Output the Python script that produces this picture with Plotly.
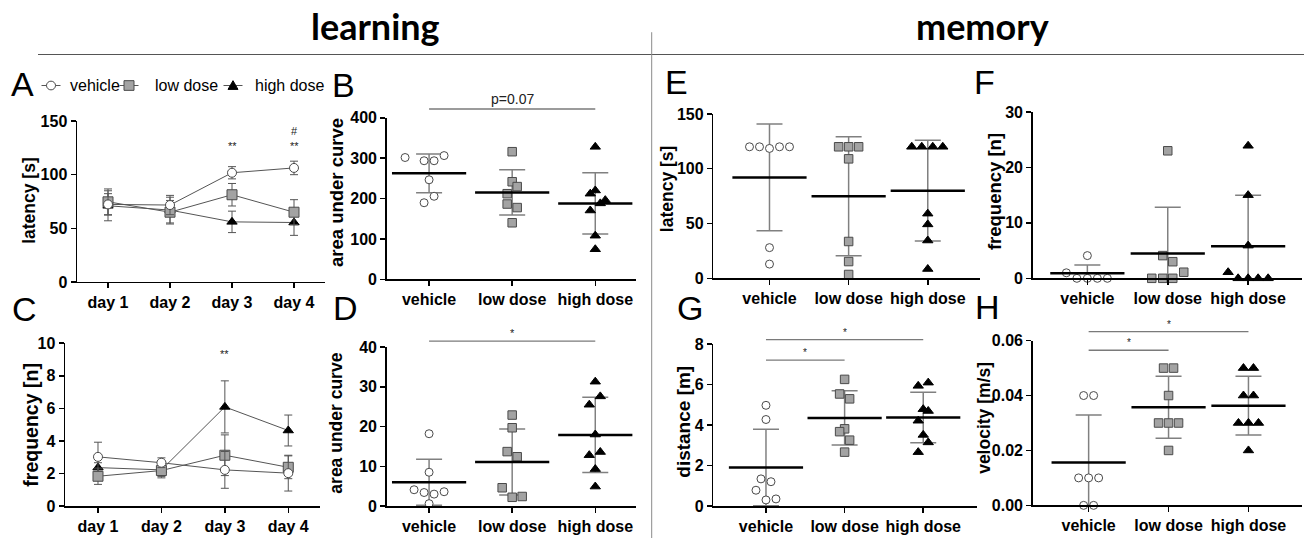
import plotly.graph_objects as go

W, H = 1304, 547
FONT = "Liberation Sans"

# ------------------------------------------------------------------ data
DAYS = ["day 1", "day 2", "day 3", "day 4"]
GROUPS = ["vehicle", "low dose", "high dose"]

# Panel A – latency [s] over days (mean, SEM)
A_VEH = [72.3, 71.7, 101.8, 106.3]
A_VEH_ERR = [10.0, 9.0, 5.7, 6.3]
A_LOW = [74.7, 65.0, 81.3, 65.0]
A_LOW_ERR = [12.0, 11.0, 10.5, 11.7]
A_HIGH = [71.0, 67.0, 56.0, 55.4]
A_HIGH_ERR = [14.0, 12.0, 10.0, 12.0]

# Panel C – frequency [n] over days (mean, SEM)
C_VEH = [3.02, 2.66, 2.22, 2.02]
C_VEH_ERR = [0.9, 0.3, 1.13, 1.1]
C_LOW = [1.83, 2.18, 3.12, 2.38]
C_LOW_ERR = [0.5, 0.45, 1.25, 0.7]
C_HIGH = [2.36, 2.22, 6.09, 4.64]
C_HIGH_ERR = [0.3, 0.4, 1.6, 0.95]

# Panel B – area under curve (latency)
B_VEH = [301.6, 293.6, 293.6, 306.4, 246.4, 205.6, 189.6]
B_LOW = [316.0, 241.6, 229.6, 212.0, 186.4, 177.6, 140.0]
B_HIGH = [328.0, 220.0, 212.0, 196.0, 188.0, 170.4, 108.0, 74.4]
B_MEAN = [262.4, 215.0, 188.0]
B_SD = [48.0, 56.0, 76.0]

# Panel D – area under curve (frequency)
D_VEH = [18.2, 8.5, 4.1, 3.4, 3.0, 3.6, 0.6]
D_LOW = [22.9, 19.7, 13.7, 12.4, 4.6, 2.2, 2.4]
D_HIGH = [31.3, 27.6, 25.5, 18.0, 12.8, 13.6, 9.3, 4.9]
D_MEAN = [6.0, 11.1, 17.9]
D_SD = [5.8, 8.3, 9.45]

# Panel E – latency [s] (memory)
E_VEH = [120, 120, 118.5, 120, 120, 28, 13]
E_LOW = [120, 120, 120, 109, 33.6, 15.3, 3.5]
E_HIGH = [120, 120, 120, 120, 59, 49.2, 34.5, 8.5]
E_MEAN = [92.0, 74.9, 80.0]
E_SD = [48.7, 54.3, 46.0]

# Panel F – frequency [n] (memory)
F_VEH = [4.1, 1.0, 0, 0, 0, 0]
F_LOW = [23.0, 4.1, 3.0, 1.1, 0, 0, 0]
F_HIGH = [23.9, 15.0, 5.9, 1.1, 0, 0, 0, 0]
F_MEAN = [0.9, 4.5, 5.8]
F_SD = [1.5, 8.3, 9.2]

# Panel G – distance [m]
G_VEH = [4.97, 4.27, 1.34, 1.2, 0.78, 0.3, 0.35]
G_LOW = [6.25, 5.53, 5.29, 3.81, 3.67, 3.25, 2.66]
G_HIGH = [5.93, 6.09, 4.78, 4.69, 4.21, 3.51, 3.14, 2.66]
G_MEAN = [1.9, 4.35, 4.37]
G_SD = [1.89, 1.34, 1.25]

# Panel H – velocity [m/s]
H_VEH = [0.04, 0.04, 0.01, 0.01, 0.01, 0.0, 0.0]
H_LOW = [0.05, 0.05, 0.04, 0.03, 0.03, 0.03, 0.02]
H_HIGH = [0.05, 0.05, 0.04, 0.04, 0.03, 0.03, 0.03, 0.02]
H_MEAN = [0.01565, 0.0357, 0.0363]
H_SD = [0.01725, 0.0113, 0.0107]

# significance marks
A_SIG = [(2, 127, "**"), (3, 127, "**"), (3, 141, "#")]
C_SIG = [(2, 9.35, "**")]
B_SIG = [(0, 2, 421.7, "p=0.07")]
D_SIG = [(0, 2, 41.5, "*")]
G_SIG = [(0, 2, 8.21, "*"), (0, 1, 7.2, "*")]
H_SIG = [(0, 2, 0.0633, "*"), (0, 1, 0.0565, "*")]

# ------------------------------------------------------------------ point jitter (px)
B_JIT = [[-24, -5, 5, 15, 0, 5, -5], [0, 0, 5, -5, -5, 5, 0], [0, 0, -5, 10, 5, -5, 0, 0]]
D_JIT = [[0, 0, -15, -5, 5, 15, 0], [0, 0, -5, 5, -10, 0, 10], [0, 5, -6, 0, -6, 5, 0, 0]]
E_JIT = [[-20, -10, 0, 10, 20, 0, 0], [-10, 0, 10, 0, 0, 0, 0], [-16, -6, 5, 15, 0, 0, 0, 0]]
F_JIT = [[0, -21, -10.5, 0, 10, 20], [0, -5, 5, 16, -16, -5, 5], [0, 0, 0, -20, -10, 0, 10, 20]]
G_JIT = [[0, 0, -5, 5, -10, 0, 10], [0, -5, 5, 0, -5, 5, 0], [-5, 5, 0, 5, -5, 0, 5, -5]]
H_JIT = [[-5, 5, -10, 0, 10, -5, 5], [-5, 5, 0, -10, 0, 10, 0], [-5, 5, -5, 5, -10, 0, 10, 0]]

# ------------------------------------------------------------------ styles
EDGE = "#4a4a4a"
GRAYFILL = "#a3a3a3"
MARKERS = [
    dict(symbol="circle", size=8, color="white", line=dict(color=EDGE, width=1)),
    dict(symbol="square", size=8.5, color=GRAYFILL, line=dict(color=EDGE, width=1)),
    dict(symbol="triangle-up", size=9, color="black", line=dict(color="black", width=1)),
]
LINE_MARKERS = [
    dict(symbol="circle", size=9, color="white", line=dict(color=EDGE, width=1)),
    dict(symbol="square", size=10, color=GRAYFILL, line=dict(color=EDGE, width=1)),
    dict(symbol="triangle-up", size=9, color="black", line=dict(color="black", width=1)),
]
SD_COLOR = "#808080"
SIG_COLOR = "#7a7a7a"

fig = go.Figure()
layout = dict(
    width=W, height=H, autosize=False,
    margin=dict(l=0, r=0, t=0, b=0),
    paper_bgcolor="white", plot_bgcolor="rgba(0,0,0,0)",
    showlegend=False,
    font=dict(family=FONT, color="black"),
)

# panel boxes in px: left, top, right, bottom
PANELS = {
    "A": dict(n=1, box=(77, 116.7, 325, 282.7), xr=[-0.5, 3.5], yr=[0, 150], yt=[0, 50, 100, 150], cats=DAYS),
    "C": dict(n=2, box=(65, 346, 320, 514), xr=[-0.52, 3.5], yr=[0, 10], yt=[0, 2, 4, 6, 8, 10], cats=DAYS),
    "B": dict(n=3, box=(386.7, 113.3, 636, 280), xr=[-0.51, 2.49], yr=[0, 400], yt=[0, 100, 200, 300, 400], cats=GROUPS),
    "D": dict(n=4, box=(386.7, 350, 636, 514), xr=[-0.51, 2.49], yr=[0, 40], yt=[0, 10, 20, 30, 40], cats=GROUPS),
    "E": dict(n=5, box=(713.3, 109.3, 980, 279), xr=[-0.71, 2.66], yr=[0, 150], yt=[0, 50, 100, 150], cats=GROUPS),
    "G": dict(n=6, box=(713.3, 346.7, 976.7, 514), xr=[-0.67, 2.68], yr=[0, 8], yt=[0, 2, 4, 6, 8], cats=GROUPS),
    "F": dict(n=7, box=(1032.7, 107.3, 1302, 279), xr=[-0.68, 2.67], yr=[0, 30], yt=[0, 10, 20, 30], cats=GROUPS),
    "H": dict(n=8, box=(1032.7, 343.3, 1302, 513.3), xr=[-0.70, 2.67], yr=[0, 0.06], yt=[0, 0.02, 0.04, 0.06], cats=GROUPS),
}

tickfont = dict(family=FONT, size=16, color="black", weight="bold")
for key, p in PANELS.items():
    l, t, r, b = p["box"]
    n = p["n"]
    xs = "" if n == 1 else str(n)
    common = dict(showline=True, linecolor="black", linewidth=1.5, ticks="outside",
                  ticklen=5, tickwidth=1.5, tickcolor="black", showgrid=False,
                  zeroline=False, tickfont=tickfont, fixedrange=True)
    layout["xaxis" + xs] = dict(common, domain=[l / W, r / W], range=p["xr"],
                                anchor="y" + xs, tickmode="array",
                                tickvals=list(range(len(p["cats"]))), ticktext=p["cats"])
    ya = dict(common, domain=[1 - b / H, 1 - t / H], range=p["yr"],
              anchor="x" + xs, tickmode="array", tickvals=p["yt"])
    if key == "H":
        ya["tickformat"] = ".2f"
    layout["yaxis" + xs] = ya
    p["xa"], p["ya"] = "x" + xs, "y" + xs
    p["upx"] = (r - l) / (p["xr"][1] - p["xr"][0])


# ------------------------------------------------------------------ line panels
def line_panel(p, series, errs):
    for gi in [2, 1, 0]:
        fig.add_trace(go.Scatter(
            x=list(range(len(DAYS))), y=series[gi], mode="lines+markers",
            error_y=dict(type="data", array=errs[gi], color="#555555", thickness=1, width=4),
            line=dict(color="#555555", width=1), marker=LINE_MARKERS[gi],
            xaxis=p["xa"], yaxis=p["ya"], cliponaxis=False))


line_panel(PANELS["A"], [A_VEH, A_LOW, A_HIGH], [A_VEH_ERR, A_LOW_ERR, A_HIGH_ERR])
line_panel(PANELS["C"], [C_VEH, C_LOW, C_HIGH], [C_VEH_ERR, C_LOW_ERR, C_HIGH_ERR])

annotations = []


def note(p, x, lvl, txt, size, anchor):
    annotations.append(dict(x=x, y=lvl / p["yr"][1], xref=p["xa"], yref=p["ya"] + " domain",
                            text=txt, showarrow=False, yanchor=anchor,
                            font=dict(family=FONT, size=size, color="#222")))


for (d, lvl, txt) in A_SIG:
    note(PANELS["A"], d, lvl, txt, 11, "middle")
for (d, lvl, txt) in C_SIG:
    note(PANELS["C"], d, lvl, txt, 11, "middle")


# ------------------------------------------------------------------ dot panels
def dot_panel(p, vals, jit, means, sds):
    for gi in range(3):
        fig.add_trace(go.Scatter(
            x=[gi], y=[means[gi]], mode="markers",
            marker=dict(size=1, color="rgba(0,0,0,0)"),
            error_y=dict(type="data", array=[sds[gi]], color=SD_COLOR, thickness=1.5, width=13),
            xaxis=p["xa"], yaxis=p["ya"]))
        fig.add_trace(go.Scatter(
            x=[gi + j / p["upx"] for j in jit[gi]], y=vals[gi], mode="markers",
            marker=MARKERS[gi], xaxis=p["xa"], yaxis=p["ya"], cliponaxis=False))
        fig.add_trace(go.Scatter(
            x=[gi], y=[means[gi]], mode="markers",
            marker=dict(symbol="line-ew", size=53, color="black",
                        line=dict(color="black", width=2.5)),
            xaxis=p["xa"], yaxis=p["ya"], cliponaxis=False))


dot_panel(PANELS["B"], [B_VEH, B_LOW, B_HIGH], B_JIT, B_MEAN, B_SD)
dot_panel(PANELS["D"], [D_VEH, D_LOW, D_HIGH], D_JIT, D_MEAN, D_SD)
dot_panel(PANELS["E"], [E_VEH, E_LOW, E_HIGH], E_JIT, E_MEAN, E_SD)
dot_panel(PANELS["F"], [F_VEH, F_LOW, F_HIGH], F_JIT, F_MEAN, F_SD)
dot_panel(PANELS["G"], [G_VEH, G_LOW, G_HIGH], G_JIT, G_MEAN, G_SD)
dot_panel(PANELS["H"], [H_VEH, H_LOW, H_HIGH], H_JIT, H_MEAN, H_SD)

shapes = []


def sig(p, items, size):
    for (g0, g1, lvl, txt) in items:
        frac = lvl / p["yr"][1]
        shapes.append(dict(type="line", xref=p["xa"], yref=p["ya"] + " domain",
                           x0=g0, x1=g1, y0=frac, y1=frac,
                           line=dict(color=SIG_COLOR, width=1.3)))
        note(p, (g0 + g1) / 2, lvl, txt, size, "bottom")


sig(PANELS["B"], B_SIG, 14)
sig(PANELS["D"], D_SIG, 11)
sig(PANELS["G"], G_SIG, 10)
sig(PANELS["H"], H_SIG, 10)

# ------------------------------------------------------------------ legend (panel A header), drawn as shapes
LEG_KEY_X = [51, 129, 233]
LEG_TXT_X = [68, 153, 253]
LEG_Y = 80


def px(x, y):
    return x / W, 1 - y / H


for gi in range(3):
    cx = LEG_KEY_X[gi]
    x0, y0 = px(cx - 9.5, LEG_Y)
    x1, _ = px(cx + 9.5, LEG_Y)
    shapes.append(dict(type="line", xref="paper", yref="paper", x0=x0, x1=x1, y0=y0, y1=y0,
                       line=dict(color="#555555", width=1)))
    if gi == 0:
        a0, b0 = px(cx - 4.5, LEG_Y + 4.5)
        a1, b1 = px(cx + 4.5, LEG_Y - 4.5)
        shapes.append(dict(type="circle", xref="paper", yref="paper", x0=a0, x1=a1, y0=b0, y1=b1,
                           fillcolor="white", line=dict(color=EDGE, width=1)))
    elif gi == 1:
        a0, b0 = px(cx - 5, LEG_Y + 5)
        a1, b1 = px(cx + 5, LEG_Y - 5)
        shapes.append(dict(type="rect", xref="paper", yref="paper", x0=a0, x1=a1, y0=b0, y1=b1,
                           fillcolor=GRAYFILL, line=dict(color=EDGE, width=1)))
    else:
        pa = px(cx - 5, LEG_Y + 4)
        pb = px(cx + 5, LEG_Y + 4)
        pc = px(cx, LEG_Y - 5)
        path = "M {} {} L {} {} L {} {} Z".format(pa[0], pa[1], pb[0], pb[1], pc[0], pc[1])
        shapes.append(dict(type="path", xref="paper", yref="paper", path=path,
                           fillcolor="black", line=dict(color="black", width=1)))
    tx, ty = px(LEG_TXT_X[gi], LEG_Y)
    annotations.append(dict(x=tx, y=ty, xref="paper", yref="paper",
                            text=GROUPS[gi], showarrow=False, xanchor="left", yanchor="middle",
                            font=dict(family=FONT, size=16, color="black")))

# ------------------------------------------------------------------ titles / letters
AXIS_TITLES = [
    ("latency [s]", 29, 199, 17.5), ("frequency [n]", 31, 430, 19.5),
    ("area under curve", 336, 191, 18.5), ("area under curve", 336, 429, 17.5),
    ("latency [s]", 667, 187, 17.5), ("distance [m]", 684, 427, 19),
    ("frequency [n]", 994, 190, 18.5), ("velocity [m/s]", 984, 423, 17.5),
]
for (txt, x, y, s) in AXIS_TITLES:
    annotations.append(dict(x=x / W, y=1 - y / H, xref="paper", yref="paper", text=txt,
                            textangle=-90, showarrow=False, xanchor="center", yanchor="middle",
                            font=dict(family=FONT, size=s, color="black", weight="bold")))

LETTERS = [("A", 22, 78), ("B", 344, 79), ("C", 24, 311), ("D", 345, 310),
           ("E", 676, 76), ("F", 984, 76), ("G", 690, 310), ("H", 988, 309)]
for (txt, x, y) in LETTERS:
    annotations.append(dict(x=x / W, y=1 - y / H, xref="paper", yref="paper", text=txt,
                            showarrow=False, xanchor="center", yanchor="middle",
                            font=dict(family=FONT, size=34, color="black")))

HEADERS = [("learning", 375, 19), ("memory", 982, 19)]
for (txt, x, y) in HEADERS:
    annotations.append(dict(x=x / W, y=1 - y / H, xref="paper", yref="paper", text=txt,
                            showarrow=False, xanchor="center", yanchor="middle",
                            font=dict(family="Lato", size=36, color="black", weight="bold")))

shapes.append(dict(type="line", xref="paper", yref="paper", x0=38 / W, x1=1, y0=1 - 48 / H,
                   y1=1 - 48 / H, line=dict(color="#555555", width=1)))
shapes.append(dict(type="line", xref="paper", yref="paper", x0=651.7 / W, x1=651.7 / W,
                   y0=1 - 25 / H, y1=0, line=dict(color="#8a8a8a", width=1)))

layout["annotations"] = annotations
layout["shapes"] = shapes
fig.update_layout(**layout)
fig.write_html(
    "out.html",
    config={"displayModeBar": False, "staticPlot": True},
    post_script="document.body.style.margin='0';document.body.style.overflow='hidden';"
                "document.documentElement.style.overflow='hidden';",
)
